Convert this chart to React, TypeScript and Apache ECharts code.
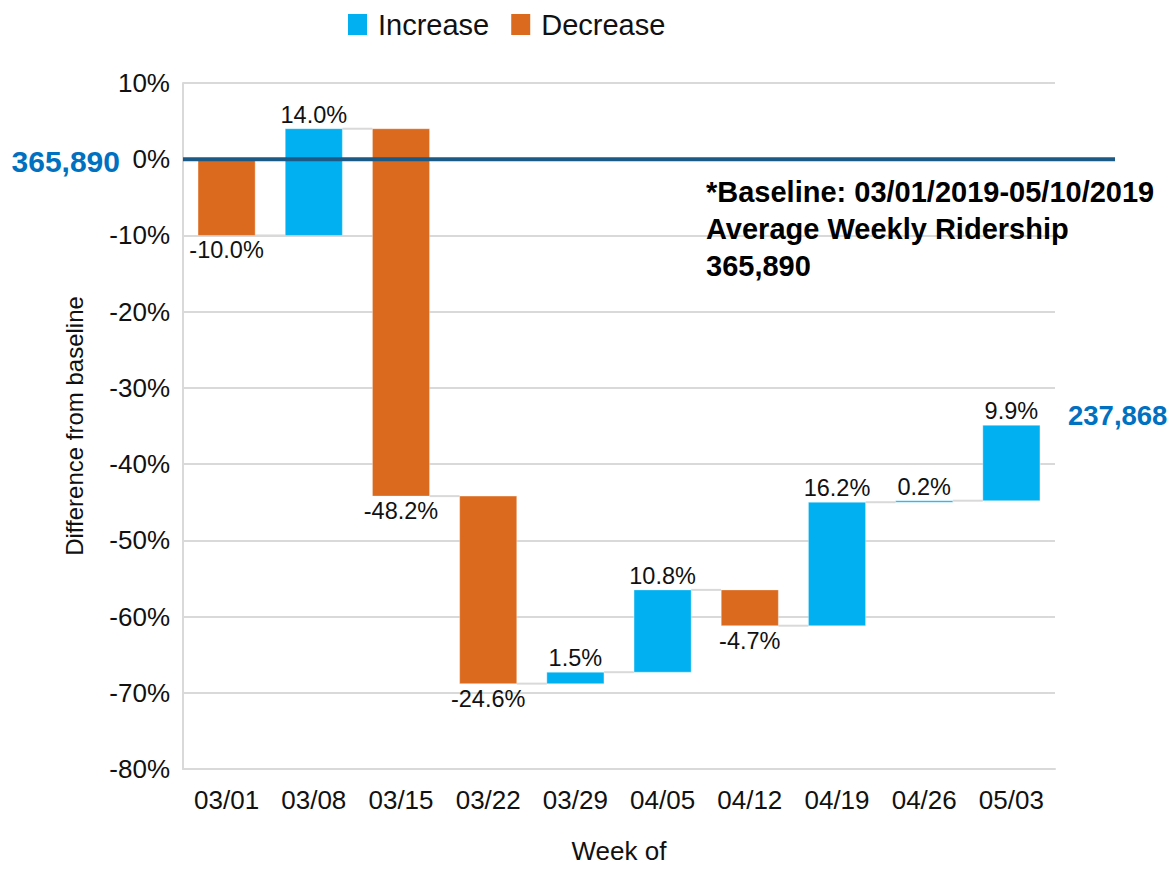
import React, { useEffect, useRef } from "react";
import * as echarts from "echarts";

const categories = ["03/01", "03/08", "03/15", "03/22", "03/29", "04/05", "04/12", "04/19", "04/26", "05/03"];
const deltas = [-10.0, 14.0, -48.2, -24.6, 1.5, 10.8, -4.7, 16.2, 0.2, 9.9];
const yMin = -80;
const yMax = 10;
const yInterval = 10;
const baselineRidership = "365,890";
const finalRidership = "237,868";
const noteLines = ["*Baseline: 03/01/2019-05/10/2019", "Average Weekly Ridership", "365,890"];

const BLUE = "#00b0f0";
const ORANGE = "#dc6a1e";
const FONT = "'Liberation Sans', Arial, sans-serif";

export default function App() {
  const ref = useRef<HTMLDivElement>(null);

  useEffect(() => {
    document.body.style.margin = "0";
    const chart = echarts.init(ref.current!, null, { renderer: "svg" });

    // running totals for the waterfall
    const starts: number[] = [];
    const ends: number[] = [];
    let run = 0;
    deltas.forEach((d) => {
      starts.push(run);
      run = Math.round((run + d) * 10) / 10;
      ends.push(run);
    });

    const incData: any[] = [];
    const decData: any[] = [];
    deltas.forEach((d, i) => {
      const item = [i, starts[i], ends[i], d];
      if (d >= 0) incData.push(item);
      else decData.push(item);
    });
    const connData = ends.slice(0, -1).map((e, i) => [i, e]);

    const BAR_RATIO = 0.655;

    const renderBar = (params: any, api: any) => {
      const i = api.value(0);
      const s = api.value(1);
      const e = api.value(2);
      const d = api.value(3);
      const p1 = api.coord([i, s]);
      const p2 = api.coord([i, e]);
      const band = api.size([1, 0])[0];
      const w = band * BAR_RATIO;
      const top = Math.min(p1[1], p2[1]);
      const h = Math.max(Math.abs(p1[1] - p2[1]), 1.5);
      const label = d.toFixed(1) + "%";
      return {
        type: "group",
        children: [
          {
            type: "rect",
            shape: { x: p1[0] - w / 2, y: top, width: w, height: h },
            style: { fill: api.visual("color"), stroke: "rgba(255,255,255,0.35)", lineWidth: 1 },
          },
          {
            type: "text",
            x: p1[0],
            y: d >= 0 ? top - 2 : top + h + 3,
            style: {
              text: label,
              fill: "#111",
              font: `23.5px ${FONT}`,
              align: "center",
              verticalAlign: d >= 0 ? "bottom" : "top",
            },
          },
        ],
      };
    };

    const renderConn = (params: any, api: any) => {
      const i = api.value(0);
      const v = api.value(1);
      const p = api.coord([i, v]);
      const band = api.size([1, 0])[0];
      const w = band * BAR_RATIO;
      return {
        type: "line",
        shape: { x1: p[0] + w / 2, y1: p[1], x2: p[0] + band - w / 2, y2: p[1] },
        style: { stroke: "#d9d9d9", lineWidth: 2 },
      };
    };

    chart.setOption({
      animation: false,
      textStyle: { fontFamily: FONT },
      legend: {
        data: ["Increase", "Decrease"],
        left: 343,
        top: 5,
        icon: "rect",
        itemWidth: 19,
        itemHeight: 21,
        itemGap: 22,
        textStyle: { fontSize: 29, color: "#111", fontFamily: FONT, padding: [0, 0, 0, 6] },
      },
      grid: { left: 183, right: 121, top: 83, bottom: 85, containLabel: false },
      xAxis: {
        type: "category",
        data: categories,
        name: "Week of",
        nameLocation: "middle",
        nameGap: 69,
        nameTextStyle: { fontSize: 26, color: "#111", fontFamily: FONT },
        axisLine: { onZero: false, lineStyle: { color: "#d9d9d9", width: 2 } },
        axisTick: { show: false },
        axisLabel: { fontSize: 26, color: "#111", margin: 18, fontFamily: FONT },
      },
      yAxis: {
        type: "value",
        min: yMin,
        max: yMax,
        interval: yInterval,
        name: "Difference from baseline",
        nameLocation: "middle",
        nameGap: 97,
        nameTextStyle: { fontSize: 24, color: "#111", fontFamily: FONT },
        axisLine: { show: true, lineStyle: { color: "#d9d9d9", width: 2 } },
        axisTick: { show: false },
        splitLine: { lineStyle: { color: "#d9d9d9", width: 2 } },
        axisLabel: { fontSize: 26, color: "#111", margin: 13, formatter: (v: number) => `${v}%`, fontFamily: FONT },
      },
      series: [
        {
          name: "Connector",
          type: "custom",
          renderItem: renderConn,
          data: connData,
          encode: { x: 0, y: 1 },
          z: 1,
          silent: true,
        },
        {
          name: "Increase",
          type: "custom",
          renderItem: renderBar,
          itemStyle: { color: BLUE },
          data: incData,
          encode: { x: 0, y: [1, 2] },
          z: 2,
        },
        {
          name: "Decrease",
          type: "custom",
          renderItem: renderBar,
          itemStyle: { color: ORANGE },
          data: decData,
          encode: { x: 0, y: [1, 2] },
          z: 2,
        },
      ],
    });

    const gridLeft = 183;
    const y0 = chart.convertToPixel({ yAxisIndex: 0 }, 0) as number;
    const yEnd = chart.convertToPixel({ yAxisIndex: 0 }, ends[ends.length - 1]) as number;

    chart.setOption({
      graphic: [
        {
          type: "line",
          z: 100,
          shape: { x1: gridLeft, y1: y0, x2: 1115, y2: y0 },
          style: { stroke: "#1b5a86", lineWidth: 4 },
        },
        {
          type: "text",
          z: 100,
          x: 120,
          y: y0 + 2,
          style: {
            text: baselineRidership,
            fill: "#0070c0",
            font: `bold 30px ${FONT}`,
            align: "right",
            verticalAlign: "middle",
          },
        },
        {
          type: "text",
          z: 100,
          x: 1068,
          y: yEnd - 10,
          style: {
            text: finalRidership,
            fill: "#0070c0",
            font: `bold 27.5px ${FONT}`,
            align: "left",
            verticalAlign: "middle",
          },
        },
        ...noteLines.map((t, k) => ({
          type: "text",
          z: 100,
          x: 706,
          y: 192 + k * 37,
          style: {
            text: t,
            fill: "#000",
            font: `bold 29px ${FONT}`,
            align: "left",
            verticalAlign: "middle",
          },
        })),
      ],
    });

    return () => chart.dispose();
  }, []);

  return <div ref={ref} style={{ width: 1176, height: 869 }} />;
}
